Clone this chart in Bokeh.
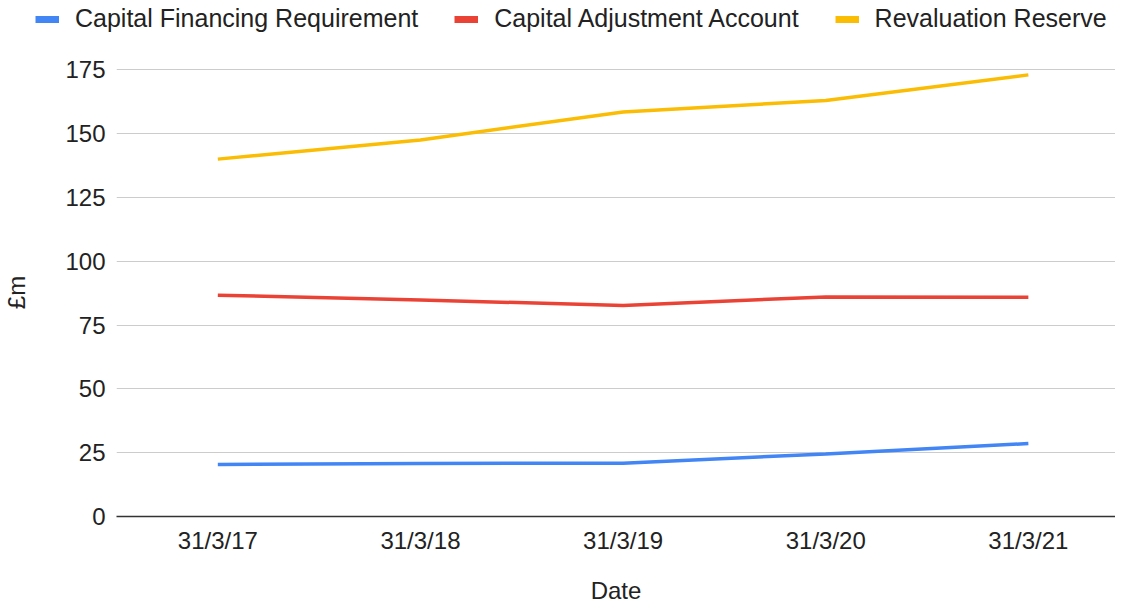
from bokeh.plotting import figure
from bokeh.models import (Range1d, FixedTicker, Legend, LegendItem, ColumnDataSource)
from bokeh.embed import file_html
from bokeh.resources import INLINE

dates = ["31/3/17", "31/3/18", "31/3/19", "31/3/20", "31/3/21"]
cfr = [20.4, 20.8, 20.9, 24.5, 28.6]
caa = [86.7, 84.8, 82.7, 86.0, 85.9]
rr = [140.0, 147.5, 158.5, 163.0, 173.0]
series_names = ["Capital Financing Requirement", "Capital Adjustment Account", "Revaluation Reserve"]
series_colors = ["#4285F4", "#EA4335", "#FBBC04"]
y_ticks = [0, 25, 50, 75, 100, 125, 150, 175]

FONT = "Liberation Sans"
x_idx = list(range(len(dates)))

# ---- legend strip (own small figure so the legend can sit left of the plot frame)
lg = figure(width=1115, height=44, x_range=Range1d(0, 1), y_range=Range1d(0, 1),
            x_axis_type=None, y_axis_type=None, output_backend="svg", toolbar_location=None,
            min_border=0)
lg.outline_line_color = None
lg.grid.visible = False
items = []
for name, col in zip(series_names, series_colors):
    # swatch-only renderers, placed outside the visible range
    r = lg.line(x=[0, 1], y=[-5, -5], line_color=col, line_width=7)
    items.append(LegendItem(label=name, renderers=[r]))
legend = Legend(items=items, orientation="horizontal", location=(35, 11),
                glyph_width=24, glyph_height=8, label_standoff=16, spacing=36,
                padding=0, margin=0, border_line_color=None, background_fill_alpha=0,
                label_text_font=FONT, label_text_font_size="25px", label_text_color="#222222",
                label_height=20)
lg.add_layout(legend, "center")

# ---- main chart
p = figure(width=1115, height=562, x_range=Range1d(-0.5, 4.43), y_range=Range1d(0, 175.5),
           output_backend="svg", toolbar_location=None,
           min_border_left=115, min_border_right=0, min_border_top=24, min_border_bottom=90)
p.outline_line_color = None
p.background_fill_color = "white"

for vals, col in zip([cfr, caa, rr], series_colors):
    src = ColumnDataSource(dict(x=x_idx, y=vals))
    p.line("x", "y", source=src, line_color=col, line_width=3.5)

# y axis
p.yaxis.ticker = FixedTicker(ticks=y_ticks)
p.yaxis.axis_line_color = None
p.yaxis.major_tick_line_color = None
p.yaxis.minor_tick_line_color = None
p.yaxis.major_label_standoff = 5
p.yaxis.major_label_text_font = FONT
p.yaxis.major_label_text_font_size = "24px"
p.yaxis.major_label_text_color = "#222222"
p.yaxis.axis_label = "£m"
p.yaxis.axis_label_text_font = FONT
p.yaxis.axis_label_text_font_size = "24px"
p.yaxis.axis_label_text_font_style = "normal"
p.yaxis.axis_label_text_color = "#222222"
p.yaxis.axis_label_standoff = 32

# x axis
p.xaxis.ticker = FixedTicker(ticks=x_idx)
p.xaxis.major_label_overrides = {i: d for i, d in zip(x_idx, dates)}
p.xaxis.axis_line_color = "#333333"
p.xaxis.axis_line_width = 1.5
p.xaxis.major_tick_line_color = None
p.xaxis.minor_tick_line_color = None
p.xaxis.major_label_standoff = 4
p.xaxis.major_label_text_font = FONT
p.xaxis.major_label_text_font_size = "24px"
p.xaxis.major_label_text_color = "#222222"
p.xaxis.axis_label = "Date"
p.xaxis.axis_label_text_font = FONT
p.xaxis.axis_label_text_font_size = "24px"
p.xaxis.axis_label_text_font_style = "normal"
p.xaxis.axis_label_text_color = "#222222"
p.xaxis.axis_label_standoff = 20

p.xgrid.grid_line_color = None
p.ygrid.grid_line_color = "#cccccc"
p.ygrid.grid_line_width = 1

open("out.html", "w").write(file_html([lg, p], INLINE))
